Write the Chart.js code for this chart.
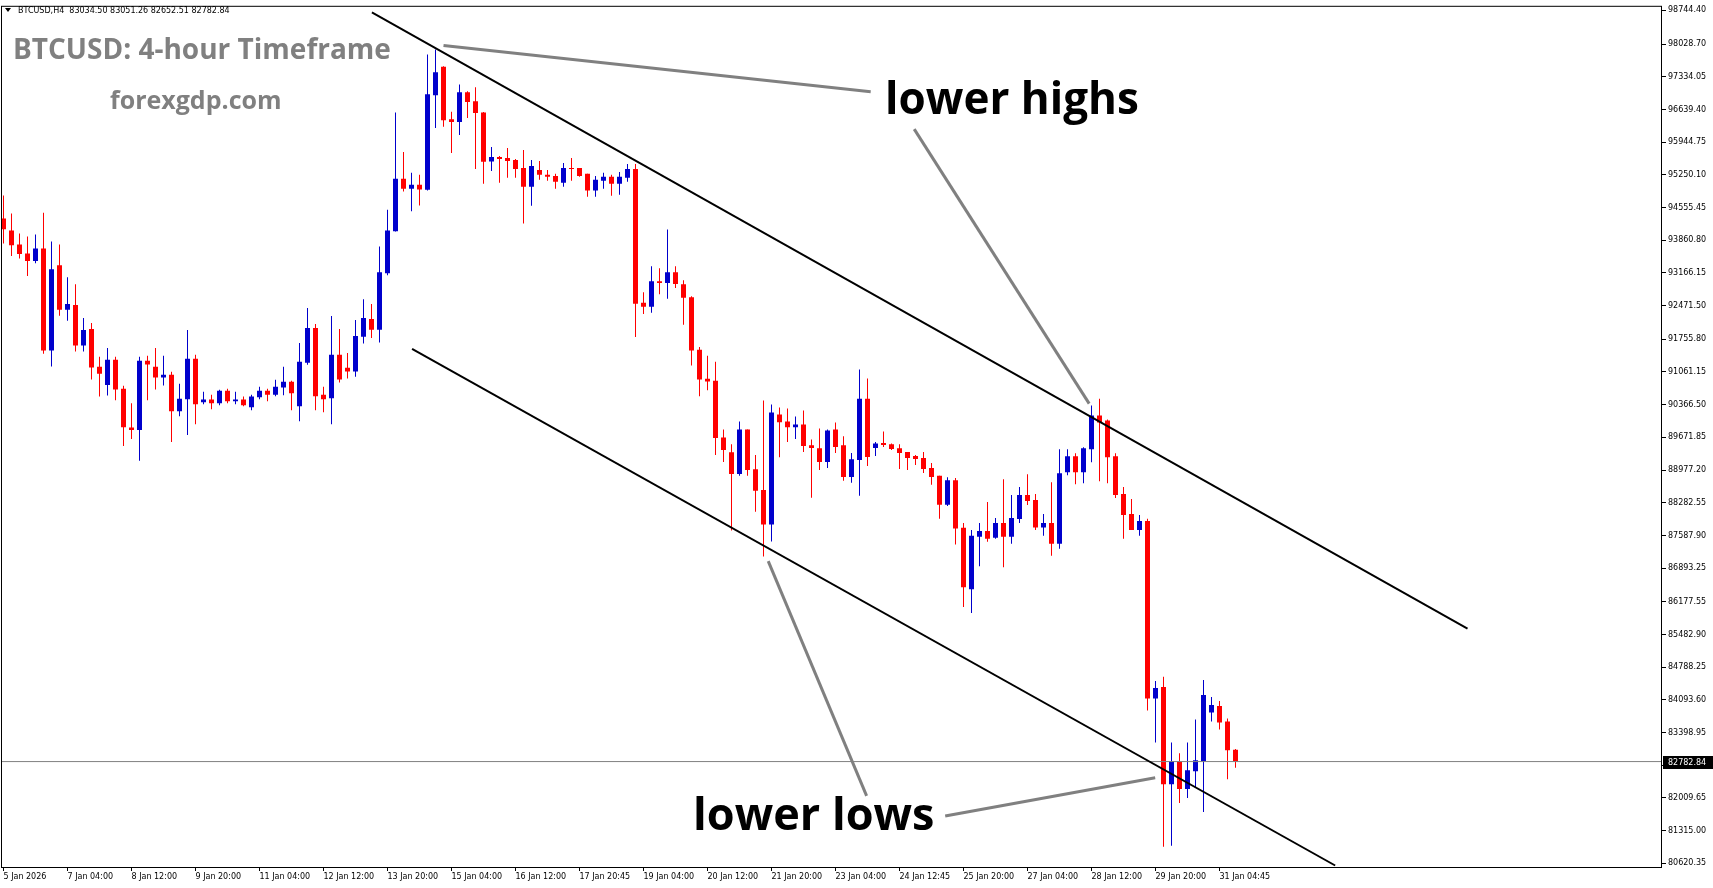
<!DOCTYPE html>
<html lang="en">
<head>
<meta charset="UTF-8">
<title>BTCUSD H4</title>
<script src="https://cdn.jsdelivr.net/npm/chart.js"></script>
<style>
  html, body { margin: 0; padding: 0; background: #fff; overflow: hidden; }
  canvas { display: block; }
</style>
</head>
<body>
<canvas id="chart" width="1713" height="888"></canvas>
<script>
// 4h candles
const opens = [
  94320, 94066, 93771, 93580, 93418, 93686, 91516, 93327, 92382, 92482,
  91622, 91974, 91172, 90783, 91319, 90705, 89883, 89826, 91298, 91172,
  90945, 91002, 90227, 90481, 91341, 90417, 90474, 90396, 90664, 90438,
  90474, 90312, 90523, 90664, 90580, 90734, 90855, 90333, 91256, 91996,
  90580, 90502, 91425, 91150, 91072, 91812, 92186, 91960, 93158, 94052,
  95165, 94954, 95038, 94933, 96940, 97546, 96429, 96371, 97003, 96813,
  96577, 95531, 95630, 95609, 95567, 95398, 94996, 95355, 95250, 95228,
  95081, 95398, 95398, 95271, 94918, 95123, 95207, 95059, 95186, 95376,
  92530, 92446, 92989, 92953, 93179, 92925, 92651, 91531, 90918, 90876,
  89671, 89354, 88896, 89840, 88995, 88551, 87818, 90157, 90010, 89889,
  89946, 89502, 89439, 89149, 89840, 89502, 88832, 89192, 90495, 89445,
  89551, 89523, 89439, 89361, 89276, 89234, 89023, 88854, 88241, 88763,
  87749, 86445, 87558, 87685, 87537, 87854, 87558, 87939, 88446, 88340,
  87755, 87854, 87410, 88932, 89270, 88932, 89418, 90136, 90031, 89270,
  88467, 88044, 87706, 87896, 84121, 84368, 82303, 82783, 82198, 82578,
  82789, 83825, 83966, 83634, 83034.50
];
const highs = [
  94812, 94426, 94003, 93940, 93982, 94447, 93834, 93771, 93073, 92925,
  92207, 92101, 91383, 91573, 91383, 90769, 90396, 91383, 91404, 91573,
  91404, 91066, 90812, 91953, 91425, 90643, 90580, 90686, 90707, 90643,
  90538, 90580, 90749, 90707, 90897, 91172, 90876, 91679, 92418, 92080,
  90749, 92249, 91974, 91467, 92165, 92608, 92503, 93728, 94510, 96574,
  95736, 95292, 95250, 97806, 97912, 97559, 96591, 97172, 97025, 97109,
  96583, 95841, 95651, 95820, 95588, 95778, 95567, 95545, 95355, 95271,
  95503, 95609, 95398, 95271, 95228, 95292, 95250, 95313, 95482, 95482,
  92756, 93306, 93263, 94087, 93306, 93010, 92672, 91594, 91404, 91277,
  89840, 89523, 90010, 89840, 89297, 90453, 90369, 90305, 90284, 90115,
  90242, 89629, 89861, 89840, 89988, 89693, 89340, 91114, 90924, 89572,
  89798, 89544, 89523, 89361, 89297, 89361, 89128, 88854, 88826, 88811,
  87854, 87706, 87854, 88298, 87960, 88784, 88446, 88615, 88889, 88467,
  88044, 88720, 89418, 89418, 89333, 89460, 90347, 90495, 90052, 89333,
  88615, 88361, 88023, 87945, 84494, 84585, 83191, 82958, 83191, 83677,
  84515, 84156, 84072, 83698, 83051.26
];
const lows = [
  93792, 93523, 93475, 93101, 93369, 91446, 91178, 92255, 92150, 91495,
  91495, 90903, 90539, 90560, 90458, 89487, 89636, 89175, 90458, 90690,
  90776, 89572, 90121, 89720, 89952, 90375, 90269, 90354, 90396, 90375,
  90333, 90248, 90481, 90438, 90544, 90565, 90248, 90016, 91214, 90248,
  90206, 89952, 90840, 90924, 90960, 91664, 91784, 91685, 93115, 94045,
  94897, 94474, 94601, 94918, 96243, 96270, 95716, 96097, 96460, 95376,
  95059, 95334, 95081, 95186, 95186, 94214, 94595, 95144, 95123, 94954,
  94996, 95123, 95207, 94785, 94785, 94954, 94806, 94827, 95102, 91805,
  92291, 92319, 92714, 92615, 92847, 92065, 91199, 90544, 90671, 89297,
  89149, 87694, 88854, 88854, 88093, 87142, 87459, 89249, 89572, 89635,
  89361, 88389, 88980, 89023, 89340, 88748, 88706, 88431, 89065, 89276,
  89466, 89403, 89001, 88980, 89086, 88917, 88663, 87945, 88213, 87396,
  86065, 85938, 86931, 87453, 87516, 86910, 87410, 87854, 88234, 87706,
  87579, 87157, 87305, 88868, 88678, 88699, 89143, 88742, 88699, 88382,
  87516, 87706, 87579, 83867, 83191, 80972, 80993, 81902, 82007, 82240,
  81712, 83634, 83465, 82409, 82652.51
];
const closes = [
  94094, 93756, 93566, 93418, 93686, 91516, 93242, 92382, 92503, 91622,
  91953, 91157, 91025, 91319, 90690, 89889, 89826, 91298, 91220, 90945,
  91000, 90227, 90495, 91341, 90375, 90474, 90396, 90664, 90438, 90474,
  90354, 90538, 90664, 90580, 90749, 90855, 90607, 91277, 91996, 90544,
  90481, 91425, 90903, 91072, 91827, 92207, 91960, 93179, 94066, 95165,
  94954, 95038, 94939, 96961, 97432, 96412, 96371, 97003, 96798, 96566,
  95526, 95630, 95588, 95545, 95376, 94996, 95440, 95250, 95207, 95102,
  95398, 95376, 95228, 94918, 95144, 95207, 95059, 95207, 95376, 92509,
  92446, 92989, 92953, 93179, 92932, 92636, 91516, 90903, 90861, 89657,
  89403, 88896, 89840, 88980, 88537, 87818, 90200, 89995, 89889, 89946,
  89487, 89445, 89149, 89819, 89466, 88832, 89206, 90495, 89255, 89544,
  89509, 89424, 89340, 89234, 89213, 89001, 88832, 88241, 88763, 87734,
  86487, 87579, 87685, 87516, 87854, 87558, 87960, 88446, 88319, 87755,
  87854, 87410, 88911, 89270, 88932, 89439, 90136, 89988, 89249, 88446,
  88023, 87706, 87896, 84121, 84347, 82303, 82783, 82198, 82599, 82810,
  84199, 83987, 83613, 83022, 82782.84
];

// time axis: a label every 8 bars
const timeLabels = [
  '5 Jan 2026', '7 Jan 04:00', '8 Jan 12:00', '9 Jan 20:00', '11 Jan 04:00',
  '12 Jan 12:00', '13 Jan 20:00', '15 Jan 04:00', '16 Jan 12:00', '17 Jan 20:45',
  '19 Jan 04:00', '20 Jan 12:00', '21 Jan 20:00', '23 Jan 04:00', '24 Jan 12:45',
  '25 Jan 20:00', '27 Jan 04:00', '28 Jan 12:00', '29 Jan 20:00', '31 Jan 04:45'
];
const labelStep = 8;

const priceTicks = [
  98744.40, 98028.70, 97334.05, 96639.40, 95944.75, 95250.10, 94555.45,
  93860.80, 93166.15, 92471.50, 91755.80, 91061.15, 90366.50, 89671.85,
  88977.20, 88282.55, 87587.90, 86893.25, 86177.55, 85482.90, 84788.25,
  84093.60, 83398.95, 82704.30, 82009.65, 81315.00, 80620.35
];

// channel lines and pointer lines, in (bar, price)
const upperChannel = [{x: 46.05, y: 98700}, {x: 183.0, y: 85606}];
const lowerChannel = [{x: 51.07, y: 91552}, {x: 166.46, y: 80575}];
const highsPointerA = [{x: 55.0, y: 97996}, {x: 108.4, y: 97016}];
const highsPointerB = [{x: 113.84, y: 96221}, {x: 135.71, y: 90390}];
const lowsPointerA = [{x: 95.59, y: 87043}, {x: 107.89, y: 82056}];
const lowsPointerB = [{x: 117.71, y: 81627}, {x: 143.96, y: 82438}];
const highsLabelAt = {x: 110.2, y: 96540};
const lowsLabelAt = {x: 86.2, y: 81325};

const xMin = -0.1875, xMax = 207.3125;
const yMin = 80543.1, yMax = 98820.5;

const bull = '#0000cc', bear = '#ff0000';
const idx = opens.map((_, i) => i);
const colors = idx.map(i => closes[i] >= opens[i] ? bull : bear);
const last = opens.length - 1;
const lastClose = closes[last];

function seg(data, color, width, order) {
  return { type: 'line', data: data, borderColor: color, borderWidth: width,
           pointRadius: 0, fill: false, tension: 0, order: order };
}

const decor = {
  id: 'decor',
  beforeDraw(chart) {
    const ctx = chart.ctx;
    ctx.save();
    ctx.fillStyle = '#fff';
    ctx.fillRect(0, 0, chart.width, chart.height);
    ctx.restore();
  },
  afterDatasetsDraw(chart) {
    const ctx = chart.ctx, xs = chart.scales.x, ys = chart.scales.y;
    ctx.save();
    // big labels
    ctx.fillStyle = '#000';
    ctx.textBaseline = 'alphabetic';
    ctx.font = 'bold 44px "Open Sans"';
    ctx.fillText('lower highs', xs.getPixelForValue(highsLabelAt.x), ys.getPixelForValue(highsLabelAt.y));
    ctx.font = 'bold 45px "Open Sans"';
    ctx.fillText('lower lows', xs.getPixelForValue(lowsLabelAt.x), ys.getPixelForValue(lowsLabelAt.y));

    // titles
    ctx.fillStyle = '#808080';
    ctx.font = 'bold 28px "Open Sans"';
    ctx.fillText('BTCUSD: 4-hour Timeframe', 13, 59);
    ctx.font = 'bold 25px "Open Sans"';
    ctx.fillText('forexgdp.com', 110, 109);

    // header line
    ctx.fillStyle = '#000';
    ctx.beginPath();
    ctx.moveTo(5, 8); ctx.lineTo(11, 8); ctx.lineTo(8, 12); ctx.closePath();
    ctx.fill();
    ctx.font = '8px "DejaVu Sans"';
    const f = v => v.toFixed(2);
    ctx.fillText('BTCUSD,H4  ' + [opens[last], highs[last], lows[last], closes[last]].map(f).join(' '), 18, 13);

    // frame
    ctx.strokeStyle = '#000';
    ctx.lineWidth = 1;
    const a = chart.chartArea;
    ctx.strokeRect(a.left - 0.5, a.top - 0.5, a.right - a.left, a.bottom - a.top + 1);
    ctx.restore();
  },
  afterDraw(chart) {
    const ctx = chart.ctx, ys = chart.scales.y, a = chart.chartArea;
    const py = Math.round(ys.getPixelForValue(lastClose));
    ctx.save();
    ctx.fillStyle = '#000';
    ctx.fillRect(a.right + 1, py - 6, 50, 13);
    ctx.fillStyle = '#fff';
    ctx.font = '8px "DejaVu Sans"';
    ctx.textBaseline = 'middle';
    ctx.fillText(lastClose.toFixed(2), a.right + 6, py + 0.5);
    ctx.restore();
  }
};

new Chart(document.getElementById('chart'), {
  type: 'bar',
  data: {
    datasets: [
      { label: 'wick', data: idx.map(i => ({x: i, y: [lows[i], highs[i]]})),
        backgroundColor: colors, barThickness: 1, grouped: false, inflateAmount: 0,
        borderWidth: 0, order: 4 },
      { label: 'body', data: idx.map(i => ({x: i, y: [opens[i], closes[i]]})),
        backgroundColor: colors, barThickness: 5, minBarLength: 1, grouped: false,
        inflateAmount: 0, borderWidth: 0, order: 3 },
      seg([{x: xMin, y: lastClose}, {x: xMax, y: lastClose}], '#808080', 1, 2),
      seg(upperChannel, '#000', 2, 1),
      seg(lowerChannel, '#000', 2, 1),
      seg(highsPointerA, '#808080', 3, 0),
      seg(highsPointerB, '#808080', 3, 0),
      seg(lowsPointerA, '#808080', 3, 0),
      seg(lowsPointerB, '#808080', 3, 0)
    ]
  },
  options: {
    responsive: false,
    animation: false,
    devicePixelRatio: 1,
    layout: { padding: { left: 2, top: 2, right: 0, bottom: 0 } },
    plugins: { legend: { display: false }, tooltip: { enabled: false } },
    scales: {
      x: {
        type: 'linear', min: xMin, max: xMax, offset: false,
        grid: { drawOnChartArea: false, color: '#000', tickLength: 4, offset: false },
        border: { display: false },
        ticks: {
          autoSkip: false, maxRotation: 0, minRotation: 0, align: 'start',
          color: '#000', padding: 1, font: { family: 'DejaVu Sans', size: 8 },
          callback: v => timeLabels[Math.round(v / labelStep)] || ''
        },
        afterBuildTicks: s => { s.ticks = timeLabels.map((_, k) => ({ value: k * labelStep })); },
        afterFit: s => { s.height = 21; }
      },
      y: {
        position: 'right', min: yMin, max: yMax,
        grid: { drawOnChartArea: false, color: '#000', tickLength: 4 },
        border: { display: false },
        ticks: {
          autoSkip: false, color: '#000', padding: 2,
          font: { family: 'DejaVu Sans', size: 8 },
          callback: v => Number(v).toFixed(2)
        },
        afterBuildTicks: s => { s.ticks = priceTicks.map(v => ({ value: v })); },
        afterFit: s => { s.width = 51; }
      }
    }
  },
  plugins: [decor]
});
</script>
</body>
</html>
